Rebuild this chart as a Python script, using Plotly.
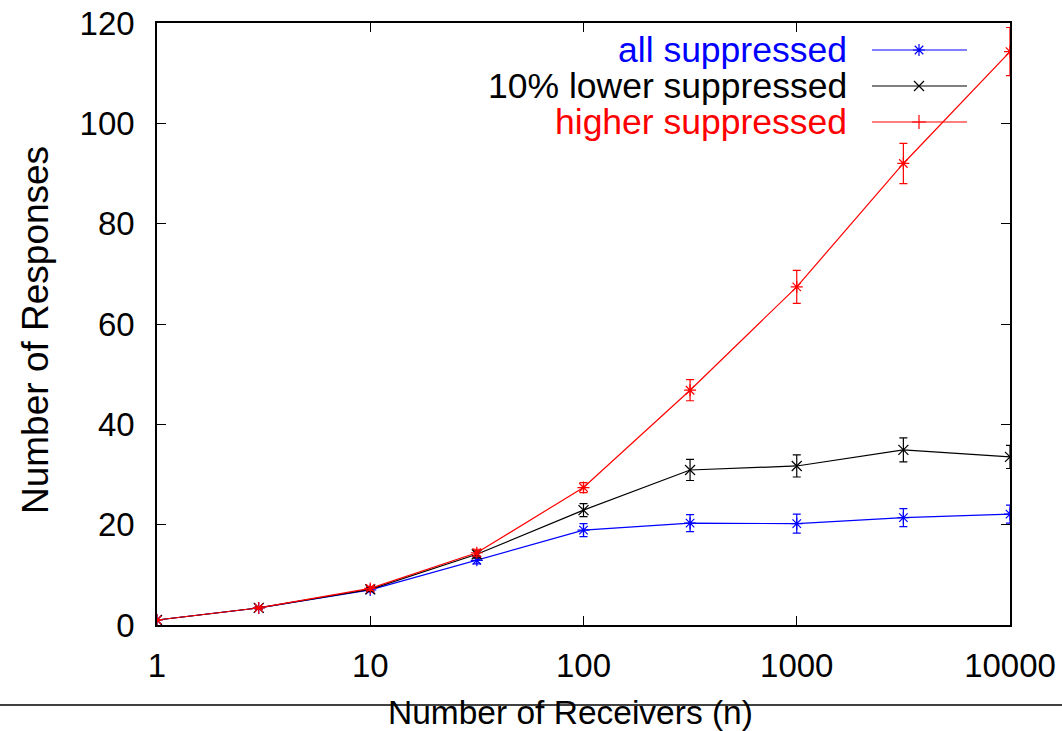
import plotly.graph_objects as go

# ---- data ----
receivers = [1, 3, 10, 31.6, 100, 316, 1000, 3162, 10000]

all_supp = [1.0, 3.4, 7.0, 12.9, 18.9, 20.3, 20.2, 21.4, 22.1]
all_err = [0.1, 0.2, 0.4, 0.7, 1.3, 1.7, 1.9, 1.8, 1.8]

lower_supp = [1.0, 3.4, 7.1, 14.1, 22.9, 30.9, 31.7, 34.9, 33.5]
lower_err = [0.1, 0.2, 0.4, 0.7, 1.3, 2.1, 2.2, 2.4, 2.3]

higher_supp = [1.0, 3.4, 7.3, 14.4, 27.4, 46.8, 67.4, 92.0, 114.3]
higher_err = [0.1, 0.2, 0.4, 0.7, 1.0, 2.1, 3.3, 4.0, 4.8]

series_names = ["all suppressed", "10% lower suppressed", "higher suppressed"]
series_colors = ["#0000ff", "#000000", "#ff0000"]

x_tickvals = [1, 10, 100, 1000, 10000]
x_ticktext = ["1", "10", "100", "1000", "10000"]
y_tickvals = [0, 20, 40, 60, 80, 100, 120]

FONT = "Liberation Sans, Arial, sans-serif"

fig = go.Figure()

data_sets = [
    (all_supp, all_err, "asterisk-open"),
    (lower_supp, lower_err, "x-thin-open"),
    (higher_supp, higher_err, "asterisk-open"),
]
for (vals, errs, sym), name, col in zip(data_sets, series_names, series_colors):
    fig.add_trace(go.Scatter(
        x=receivers, y=vals, name=name, mode="lines+markers",
        line=dict(color=col, width=1.2),
        marker=dict(symbol=sym, size=10, line=dict(color=col, width=1.2), color=col),
        error_y=dict(type="data", array=errs, visible=True, color=col,
                     thickness=1.2, width=4),
        showlegend=False,
    ))

# ---- legend (gnuplot style: text right-aligned, sample on the right) ----
legend_rows = [50, 86, 122]
legend_syms = ["asterisk-open", "x-thin-open", "cross-thin-open"]
for name, col, ry, sym in zip(series_names, series_colors, legend_rows, legend_syms):
    fig.add_trace(go.Scatter(
        x=[872, 919, 967], y=[ry, ry, ry], xaxis="x2", yaxis="y2",
        mode="lines", line=dict(color=col, width=1.2),
        showlegend=False, hoverinfo="skip",
    ))
    fig.add_trace(go.Scatter(
        x=[919], y=[ry], xaxis="x2", yaxis="y2", mode="markers",
        marker=dict(symbol=sym, size=10, color=col, line=dict(color=col, width=1.2)),
        showlegend=False, hoverinfo="skip",
    ))
    fig.add_annotation(
        x=849, y=ry, xref="x2", yref="y2", text=name, showarrow=False,
        xanchor="right", yanchor="middle",
        font=dict(family=FONT, size=35.5, color=col),
    )

axis_common = dict(
    showline=True, linecolor="black", linewidth=1.5, mirror="ticks",
    ticks="inside", ticklen=9, tickwidth=1.2, tickcolor="black",
    showgrid=False, zeroline=False,
    tickfont=dict(family=FONT, size=33, color="black"),
)

fig.update_layout(
    width=1062, height=731,
    margin=dict(l=157, r=52, t=23, b=106, autoexpand=False),
    paper_bgcolor="white", plot_bgcolor="white",
    font=dict(family=FONT, color="black"),
    xaxis=dict(type="log", range=[0, 4], tickvals=x_tickvals, ticktext=x_ticktext,
               ticklabelstandoff=11, **axis_common),
    yaxis=dict(range=[0, 120], tickvals=y_tickvals, ticklabelstandoff=14, **axis_common),
    xaxis2=dict(overlaying="x", anchor="y2", range=[157, 1010], visible=False,
                fixedrange=True),
    yaxis2=dict(overlaying="y", anchor="x2", range=[625, 23], visible=False,
                fixedrange=True),
    showlegend=False,
)

# axis titles
fig.add_annotation(
    x=(570 - 157) / 853, y=-(712 - 625) / 602, xref="paper", yref="paper",
    text="Number of Receivers (n)",
    showarrow=False, xanchor="center", yanchor="middle",
    font=dict(family=FONT, size=33.5, color="black"),
)
fig.add_annotation(
    x=-(157 - 35) / 853, y=(625 - 330) / 602, xref="paper", yref="paper",
    text="Number of Responses",
    showarrow=False, xanchor="center", yanchor="middle", textangle=-90,
    font=dict(family=FONT, size=37, color="black"),
)

# horizontal rule across the page behind the x title
fig.add_shape(type="line", xref="paper", yref="paper",
              x0=-157 / 853, x1=(1062 - 157) / 853,
              y0=-(705 - 625) / 602, y1=-(705 - 625) / 602,
              line=dict(color="black", width=1.5))

fig.write_html("out.html")
